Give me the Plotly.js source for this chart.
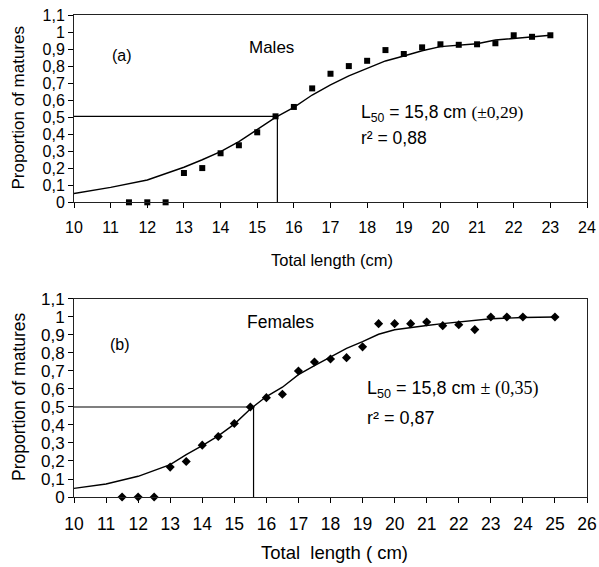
<!DOCTYPE html>
<html>
<head>
<meta charset="utf-8">
<script src="https://cdn.plot.ly/plotly-3.0.1.min.js"></script>
<style>html,body{margin:0;padding:0;background:#fff;}#chart{width:599px;height:567px;}</style>
</head>
<body>
<div id="chart"></div>
<script>
// ---- Males (a) ----
var maleLen = [11.5,12,12.5,13,13.5,14,14.5,15,15.5,16,16.5,17,17.5,18,18.5,19,19.5,20,20.5,21,21.5,22,22.5,23];
var maleProp = [0,0,0,0.172,0.201,0.288,0.335,0.411,0.505,0.56,0.669,0.755,0.80,0.831,0.894,0.871,0.91,0.928,0.925,0.928,0.934,0.981,0.972,0.981];
var maleFitLen = [10,11,12,13,13.5,14,14.5,15,15.5,16,16.5,17,17.5,18,18.5,19,19.5,20,20.5,21,21.5,22,22.5,23];
var maleFit = [0.052,0.088,0.131,0.206,0.25,0.297,0.356,0.43,0.499,0.558,0.63,0.689,0.742,0.787,0.83,0.859,0.89,0.914,0.922,0.931,0.953,0.963,0.972,0.981];
var maleL50X = 15.55, maleL50Y = 0.505;

// ---- Females (b) ----
var femLen = [11.5,12,12.5,13,13.5,14,14.5,15,15.5,16,16.5,17,17.5,18,18.5,19,19.5,20,20.5,21,21.5,22,22.5,23,23.5,24,25];
var femProp = [0,0,0,0.166,0.197,0.288,0.336,0.408,0.50,0.552,0.571,0.70,0.75,0.767,0.774,0.834,0.963,0.963,0.963,0.972,0.952,0.957,0.93,1.0,1.0,1.0,1.0];
var femFitLen = [10,11,12,13,13.5,14,14.5,15,15.5,16,16.5,17,17.5,18,18.5,19,19.5,20,20.5,21,21.5,22,22.5,23,24,25];
var femFit = [0.048,0.072,0.115,0.18,0.235,0.285,0.34,0.405,0.489,0.558,0.61,0.68,0.73,0.776,0.826,0.863,0.904,0.929,0.942,0.953,0.963,0.972,0.981,0.99,0.997,1.0];
var femL50X = 15.6, femL50Y = 0.5;

// ---- tick labels ----
var yTickVals = [0,0.1,0.2,0.3,0.4,0.5,0.6,0.7,0.8,0.9,1,1.1];
var yTickText = ["0","0,1","0,2","0,3","0,4","0,5","0,6","0,7","0,8","0,9","1","1,1"];
var xTopTicks = [10,11,12,13,14,15,16,17,18,19,20,21,22,23,24];
var xBotTicks = [10,11,12,13,14,15,16,17,18,19,20,21,22,23,24,25,26];

var F = "Liberation Sans, Arial, sans-serif";
var lineC = "#000";

var traces = [
  {x:[maleFitLen[0], maleL50X, maleL50X], y:[maleL50Y, maleL50Y, 0], xaxis:'x', yaxis:'y', mode:'lines', line:{color:lineC,width:1.2}, hoverinfo:'skip'},
  {x:maleFitLen, y:maleFit, xaxis:'x', yaxis:'y', mode:'lines', line:{color:lineC,width:1.4}},
  {x:maleLen, y:maleProp, xaxis:'x', yaxis:'y', mode:'markers', marker:{symbol:'square', size:6, color:'#000'}, cliponaxis:false},
  {x:[femFitLen[0], femL50X, femL50X], y:[femL50Y, femL50Y, 0], xaxis:'x2', yaxis:'y2', mode:'lines', line:{color:lineC,width:1.2}, hoverinfo:'skip'},
  {x:femFitLen, y:femFit, xaxis:'x2', yaxis:'y2', mode:'lines', line:{color:lineC,width:1.4}},
  {x:femLen, y:femProp, xaxis:'x2', yaxis:'y2', mode:'markers', marker:{symbol:'diamond', size:7, color:'#000'}, cliponaxis:false}
];

function xax(ticks, anchor, size, rng, standoff){
  return {range:rng, anchor:anchor, tickvals:ticks, ticktext:ticks.map(String), ticks:'outside', ticklen:5, tickcolor:'#000', tickwidth:1,
    ticklabelstandoff:standoff,
    showline:true, mirror:true, linecolor:'#222', linewidth:1, showgrid:false, zeroline:false,
    tickfont:{family:F, size:size, color:'#000'}, automargin:false, fixedrange:true};
}
function yax(dom, anchor, size){
  return {range:[0,1.1], domain:dom, anchor:anchor, tickvals:yTickVals, ticktext:yTickText, ticks:'outside', ticklen:5, tickcolor:'#000', tickwidth:1,
    showline:true, mirror:true, linecolor:'#222', linewidth:1, showgrid:false, zeroline:false,
    tickfont:{family:F, size:size, color:'#000'}, automargin:false, fixedrange:true};
}

function A(o){ o.showarrow = false; if(!o.xanchor) o.xanchor = 'center'; o.yanchor = 'middle'; return o; }

var ann = [
  A({xref:'x', yref:'y', x:11.3, y:0.865, text:'(a)', font:{family:F,size:16,color:'#000'}}),
  A({xref:'x', yref:'y', x:15.4, y:0.91, text:'Males', font:{family:F,size:17,color:'#000'}}),
  A({xref:'x', yref:'y', x:17.78, y:0.524, xanchor:'left', text:'L<sub>50</sub> = 15,8 cm <span style="font-family:Liberation Serif">(±0,29)</span>', font:{family:F,size:17.5,color:'#000'}}),
  A({xref:'x', yref:'y', x:17.78, y:0.375, xanchor:'left', text:'r² = 0,88', font:{family:F,size:17.5,color:'#000'}}),
  A({xref:'x2', yref:'y2', x:11.43, y:0.845, text:'(b)', font:{family:F,size:16,color:'#000'}}),
  A({xref:'x2', yref:'y2', x:16.43, y:0.972, text:'Females', font:{family:F,size:17.5,color:'#000'}}),
  A({xref:'x2', yref:'y2', x:19.08, y:0.595, xanchor:'left', text:'L<sub>50</sub> = 15,8 cm <span style="font-family:Liberation Serif">± (0,35)</span>', font:{family:F,size:18,color:'#000'}}),
  A({xref:'x2', yref:'y2', x:19.08, y:0.44, xanchor:'left', text:'r² = 0,87', font:{family:F,size:18,color:'#000'}}),
  A({xref:'paper', yref:'paper', x:0.503, y:0.4917, text:'Total length (cm)', font:{family:F,size:16.5,color:'#000'}}),
  A({xref:'paper', yref:'paper', x:0.507, y:-0.116, text:'Total  length ( cm)', font:{family:F,size:18.5,color:'#000'}}),
  A({xref:'paper', yref:'paper', x:-0.1072, y:0.806, text:'Proportion of matures', textangle:-90, font:{family:F,size:17,color:'#000'}}),
  A({xref:'paper', yref:'paper', x:-0.1072, y:0.2075, text:'Proportion of matures', textangle:-90, font:{family:F,size:17.5,color:'#000'}})
];

var layout = {
  width:599, height:567, showlegend:false,
  paper_bgcolor:'#fff', plot_bgcolor:'#fff',
  margin:{l:74, r:12, t:15, b:70},
  xaxis: xax(xTopTicks, 'y', 16, [10,24], 5),
  yaxis: yax([0.6114,1], 'x', 16),
  xaxis2: xax(xBotTicks, 'y2', 17.5, [10,26], 6),
  yaxis2: yax([0,0.4108], 'x2', 17),
  annotations: ann
};

Plotly.newPlot('chart', traces, layout, {displayModeBar:false, staticPlot:true});
</script>
</body>
</html>
